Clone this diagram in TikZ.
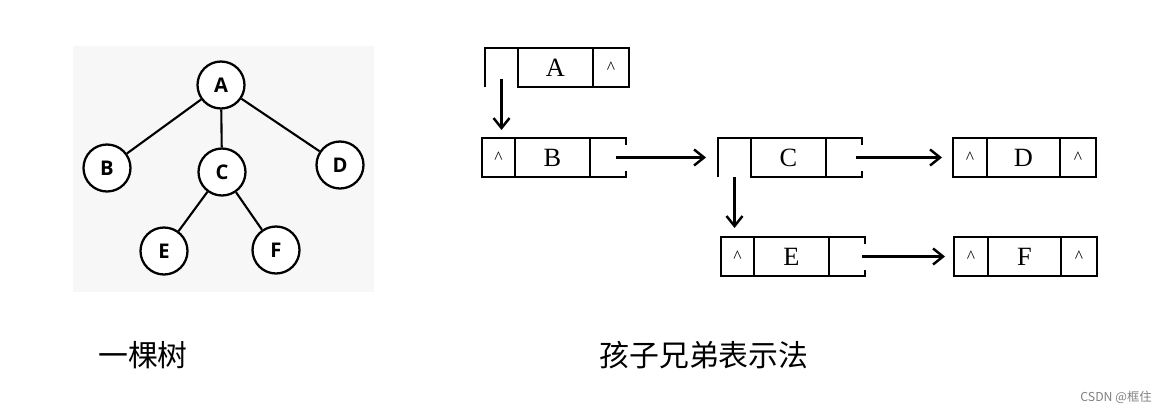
\documentclass[tikz,border=0pt]{standalone}
\usepackage{fontspec}
\setmainfont{Liberation Serif}
\newfontfamily\cjk{Noto Sans CJK SC}
\newfontfamily\treefont{Open Sans}
\usetikzlibrary{positioning,arrows.meta}

\definecolor{panelgray}{HTML}{F7F7F7}
\tikzset{
  vertex/.style={draw, circle, line width=1.3pt, fill=white, minimum size=0.94cm, inner sep=0pt, font=\treefont\bfseries\fontsize{11.5}{13}\selectfont},
  cell/.style={rectangle, minimum height=0.78cm, inner sep=0pt, outer sep=0pt, font=\fontsize{15}{18}\selectfont},
  boxed/.style={cell, draw},
  ptr/.style={-{Straight Barb[length=0.2cm, width=0.32cm]}},
  caption/.style={font=\cjk\fontsize{17}{20}\selectfont}
}
\newcommand{\nullmark}{\raisebox{-0.4em}{\fontsize{10}{10}\selectfont\textasciicircum}}

\begin{document}
\begin{tikzpicture}[line width=1.4pt]
\useasboundingbox (0,0) rectangle (23.28,-8.28);

% Tree on a gray panel
\fill[panelgray] (1.46,-0.92) rectangle (7.48,-5.84);
\node[vertex] (tA) at (4.42,-1.70) {A};
\node[vertex] (tB) at (2.14,-3.36) {B};
\node[vertex] (tC) at (4.44,-3.44) {C};
\node[vertex] (tD) at (6.80,-3.30) {D};
\node[vertex] (tE) at (3.28,-5.02) {E};
\node[vertex] (tF) at (5.52,-5.00) {F};
\draw[line width=1.2pt] (tA) -- (tB);
\draw[line width=1.2pt] (tA) -- (tC);
\draw[line width=1.2pt] (tA) -- (tD);
\draw[line width=1.2pt] (tC) -- (tE);
\draw[line width=1.2pt] (tC) -- (tF);

% Child-sibling records
\node[cell, minimum width=0.66cm] (bL) at (9.97,-3.15) {};
\node[boxed, minimum width=1.5cm, right=0pt of bL] (bM) {B};
\node[cell, minimum width=0.72cm, right=0pt of bM] (bR) {};
\node[cell, minimum width=0.66cm, above=1.02cm of bL, xshift=0.06cm] (aL) {};
\node[boxed, minimum width=1.5cm, right=0pt of aL] (aM) {A};
\node[boxed, minimum width=0.72cm, right=0pt of aM] (aR) {\nullmark};
\node[cell, minimum width=0.66cm, right=1.84cm of bR] (cL) {};
\node[boxed, minimum width=1.5cm, right=0pt of cL] (cM) {C};
\node[cell, minimum width=0.72cm, right=0pt of cM] (cR) {};
\node[boxed, minimum width=0.68cm, right=1.82cm of cR] (dL) {\nullmark};
\node[boxed, minimum width=1.46cm, right=0pt of dL] (dM) {D};
\node[boxed, minimum width=0.72cm, right=0pt of dM] (dR) {\nullmark};
\node[boxed, minimum width=0.66cm, below=1.2cm of cL, xshift=0.06cm] (eL) {\nullmark};
\node[boxed, minimum width=1.5cm, right=0pt of eL] (eM) {E};
\node[cell, minimum width=0.72cm, right=0pt of eM] (eR) {};
\node[boxed, minimum width=0.68cm, right=1.78cm of eR] (fL) {\nullmark};
\node[boxed, minimum width=1.46cm, right=0pt of fL] (fM) {F};
\node[boxed, minimum width=0.72cm, right=0pt of fM] (fR) {\nullmark};

% open cells
\draw (aL.south west) -- (aL.north west) -- (aL.north east);
\draw (cL.south west) -- (cL.north west) -- (cL.north east);
\draw (bL.south west) rectangle (bL.north east);
\node[cell] at (bL) {\nullmark};
\foreach \r in {bR,cR,eR}{
  \draw (\r.north west) -- (\r.north east) -- ++(0,-0.13);
  \draw (\r.south west) -- (\r.south east) -- ++(0,0.13);
}

% Pointers
\draw[ptr, shorten >=0.16cm] ([yshift=0.16cm]aL.south) -- (aL.south |- bL.north);
\draw[ptr, shorten >=0.24cm] ([xshift=-0.2cm]bR.east) -- (cL.west);
\draw[ptr, shorten >=0.22cm] ([xshift=-0.12cm]cR.east) -- (dL.west);
\draw[ptr, shorten >=0.18cm] (cL.south) -- (cL.south |- eL.north);
\draw[ptr, shorten >=0.18cm] ([xshift=-0.06cm]eR.east) -- (fL.west);

% Captions
\node[caption] (treecap) at (2.86,-7.1) {一棵树};
\node[caption] (reprcap) at (14.08,-7.1) {孩子兄弟表示法};
\node[font=\cjk\fontsize{7}{8}\selectfont, text=gray] (mark) at (22.32,-7.94) {CSDN @框住};
\end{tikzpicture}
\end{document}
